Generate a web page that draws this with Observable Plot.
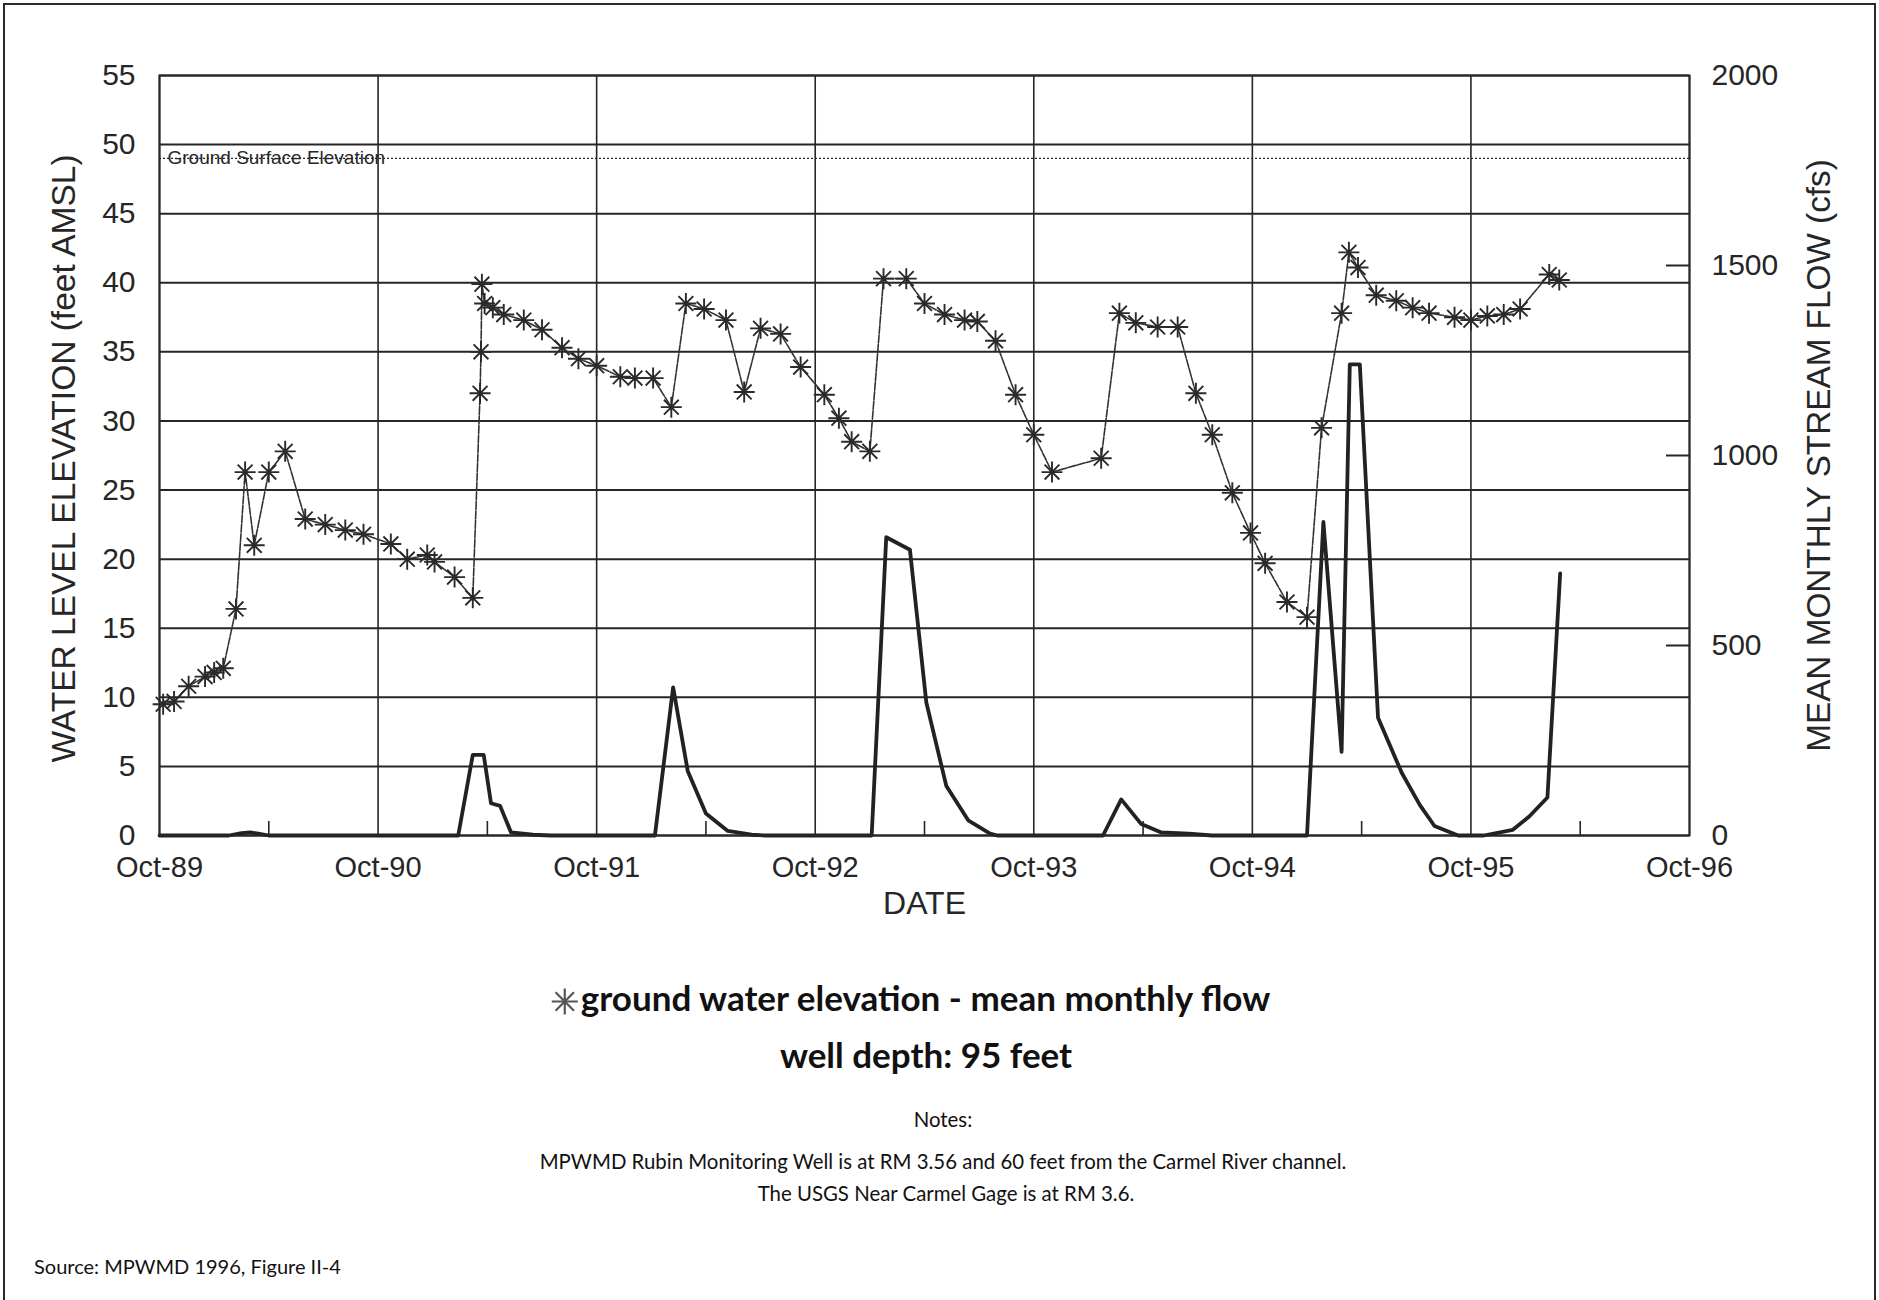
<!DOCTYPE html>
<html><head><meta charset="utf-8">
<script src="https://cdn.jsdelivr.net/npm/d3@7"></script>
<script src="https://cdn.jsdelivr.net/npm/@observablehq/plot@0.6"></script>
<style>
body{margin:0;background:#fff;}
#page{position:relative;width:1879px;height:1300px;overflow:hidden;background:#fff;}
#chart{position:absolute;left:0;top:0;}
#border{position:absolute;left:3px;top:3px;width:1873px;height:1320px;border:2px solid #2a2a2a;box-sizing:border-box;pointer-events:none;}
.t{position:absolute;white-space:nowrap;transform:translate(-50%,-50%);color:#111;font-family:Lato,"Open Sans",sans-serif;line-height:1;}
.b{font-weight:700;font-size:35px;}
.n{font-size:20.4px;}
</style></head><body>
<div id="page">
  <div id="chart"></div>
  <div class="t b" id="legend" style="left:910px;top:998px;"><svg width="30" height="30" viewBox="-15 -15 30 30" style="vertical-align:-6px;margin-right:1px"><g stroke="#555" stroke-width="2.2"><line x1="-13" y1="0" x2="13" y2="0"/><line x1="0" y1="-13" x2="0" y2="13"/><line x1="-9.2" y1="-9.2" x2="9.2" y2="9.2"/><line x1="-9.2" y1="9.2" x2="9.2" y2="-9.2"/></g></svg><span id="legendText"></span></div>
  <div class="t b" id="depth" style="left:926px;top:1054px;"></div>
  <div class="t n" id="notesHead" style="left:943px;top:1119px;"></div>
  <div class="t n" id="note1" style="left:943px;top:1161px;"></div>
  <div class="t n" id="note2" style="left:946px;top:1193px;"></div>
  <div class="t n" id="source" style="left:34px;top:1266px;transform:translate(0,-50%);font-size:20px;"></div>
  <div id="border"></div>
</div>
<script>
// ---- Data (x = months since Oct 1989) ----
const gwMonth = [0.2,0.8,1.6,2.5,3.0,3.5,4.2,4.7,5.2,6.0,6.9,8.0,9.1,10.2,11.2,12.7,13.6,14.7,15.1,16.2,17.2,17.6,17.65,17.7,17.85,18.3,18.9,20.0,21.0,22.1,23.0,24.0,25.3,26.1,27.1,28.1,28.9,29.9,31.1,32.1,33.0,34.1,35.2,36.5,37.3,38.0,39.0,39.75,41.0,42.0,43.1,44.2,44.9,45.9,47.0,48.0,49.0,51.7,52.7,53.6,54.8,55.9,56.9,57.8,58.9,59.9,60.7,61.9,63.0,63.8,64.9,65.3,65.8,66.8,67.9,68.8,69.7,71.1,72.0,72.9,73.8,74.7,76.3,76.85];
const gwLevel = [9.5,9.7,10.8,11.5,11.8,12.1,16.4,26.3,21.0,26.3,27.8,22.9,22.5,22.1,21.8,21.1,20.0,20.3,19.8,18.7,17.2,32.0,35.0,39.9,38.5,38.2,37.7,37.3,36.6,35.3,34.5,34.0,33.2,33.1,33.1,31.0,38.5,38.1,37.3,32.1,36.7,36.3,33.9,31.9,30.2,28.5,27.8,40.3,40.3,38.5,37.7,37.3,37.2,35.8,31.9,29.0,26.3,27.3,37.8,37.1,36.8,36.8,32.0,29.0,24.8,21.9,19.7,16.9,15.8,29.5,37.8,42.2,41.1,39.1,38.7,38.2,37.8,37.5,37.3,37.6,37.7,38.1,40.6,40.2];

const flowMonth = [0,3.8,4.5,5.0,5.5,6.0,16.4,17.2,17.8,18.2,18.7,19.3,20.5,21.5,27.2,28.2,29.0,30.0,31.2,32.5,33.3,39.1,39.9,41.2,42.1,43.2,44.4,45.6,46.0,51.8,52.8,53.9,55.0,56.5,57.8,63.0,63.9,64.9,65.35,65.9,66.9,68.2,69.2,70.0,71.3,72.7,74.3,75.2,76.2,76.9];
const flowCfs   = [0,0,6,8,4,0,0,212,212,85,78,8,2,0,0,390,170,58,12,2,0,0,785,752,350,130,40,5,0,0,95,30,8,5,0,0,825,220,1240,1240,310,165,80,25,0,0,15,50,100,690];

const groundSurfaceLevel = 49;
const groundSurfaceLabel = "Ground Surface Elevation";

// ---- Axes / labels ----
const yearTicks = [0,12,24,36,48,60,72,84];
const yearLabels = ["Oct-89","Oct-90","Oct-91","Oct-92","Oct-93","Oct-94","Oct-95","Oct-96"];
const halfYearTicks = [6,18,30,42,54,66,78];
const levelTicks = [0,5,10,15,20,25,30,35,40,45,50,55];
const levelMax = 55;
const flowTicks = [0,500,1000,1500,2000];
const flowInnerTicks = [500,1000,1500];
const flowMax = 2000;
const leftTitle = "WATER LEVEL ELEVATION (feet AMSL)";
const rightTitle = "MEAN MONTHLY STREAM FLOW (cfs)";
const xTitle = "DATE";

const legendText = "ground water elevation - mean monthly flow";
const depthText = "well depth: 95 feet";
const notesHead = "Notes:";
const note1 = "MPWMD Rubin Monitoring Well is at RM 3.56 and 60 feet from the Carmel River channel.";
const note2 = "The USGS Near Carmel Gage is at RM 3.6.";
const sourceText = "Source: MPWMD 1996, Figure II-4";

// ---- Build ----
const toLevel = f => f * levelMax / flowMax;
const gw = gwMonth.map((m, i) => ({m, v: gwLevel[i]}));
const flow = flowMonth.map((m, i) => ({m, v: toLevel(flowCfs[i])}));

const asterisk8 = {
  draw(ctx, size) {
    const r = Math.sqrt(size / Math.PI), d = r * Math.SQRT1_2;
    ctx.moveTo(-r, 0); ctx.lineTo(r, 0);
    ctx.moveTo(0, -r); ctx.lineTo(0, r);
    ctx.moveTo(-d, -d); ctx.lineTo(d, d);
    ctx.moveTo(-d, d); ctx.lineTo(d, -d);
  }
};

const ink = "#262626";
const chart = Plot.plot({
  width: 1879, height: 930,
  marginLeft: 159, marginRight: 190, marginTop: 75, marginBottom: 95,
  style: {background: "transparent", fontFamily: "'Liberation Sans', Arial, sans-serif", color: ink},
  x: {type: "linear", domain: [0, 84]},
  y: {domain: [0, levelMax]},
  marks: [
    Plot.gridY(levelTicks, {stroke: ink, strokeOpacity: 1, strokeWidth: 2}),
    Plot.gridX(yearTicks, {stroke: ink, strokeOpacity: 1, strokeWidth: 1.6}),
    Plot.ruleY([groundSurfaceLevel], {stroke: ink, strokeWidth: 1.3, strokeDasharray: "2,2"}),
    Plot.text([groundSurfaceLabel], {y: () => groundSurfaceLevel, frameAnchor: "left", dx: 8, dy: -1, textAnchor: "start", lineAnchor: "middle", fontSize: 19, fill: ink}),
    Plot.line(flow, {x: "m", y: "v", stroke: "#222", strokeWidth: 3.8, strokeLinejoin: "round"}),
    Plot.line(gw, {x: "m", y: "v", stroke: "#333", strokeWidth: 1.6, strokeDasharray: "8,1.5"}),
    Plot.dot(gw, {x: "m", y: "v", symbol: asterisk8, r: 10.5, fill: "none", stroke: "#2a2a2a", strokeWidth: 1.9}),
    Plot.frame({stroke: ink, strokeWidth: 2}),
    Plot.axisY(levelTicks, {anchor: "left", tickSize: 0, tickPadding: 24, fontSize: 30, label: null}),
    Plot.axisY(flowTicks.map(toLevel), {anchor: "right", tickSize: 0, tickPadding: 22, fontSize: 30, label: null,
      tickFormat: d => String(Math.round(d * flowMax / levelMax))}),
    Plot.axisY(flowInnerTicks.map(toLevel), {anchor: "right", tickSize: -24, strokeWidth: 2, tickFormat: () => "", label: null}),
    Plot.axisX(yearTicks, {anchor: "bottom", tickSize: 0, tickPadding: 21, fontSize: 29, label: null,
      tickFormat: d => yearLabels[yearTicks.indexOf(d)]}),
    Plot.axisX(halfYearTicks, {anchor: "bottom", tickSize: -14, strokeWidth: 1.6, tickFormat: () => "", label: null}),
    Plot.text([xTitle], {frameAnchor: "bottom", dy: 68, textAnchor: "middle", lineAnchor: "middle", fontSize: 32, fill: ink}),
    Plot.text([leftTitle], {frameAnchor: "left", dx: -95, dy: 3, textAnchor: "middle", lineAnchor: "middle", rotate: -90, fontSize: 33.5, fill: ink}),
    Plot.text([rightTitle], {frameAnchor: "right", dx: 130, textAnchor: "middle", lineAnchor: "middle", rotate: -90, fontSize: 33.3, fill: ink})
  ]
});
document.getElementById("chart").appendChild(chart);
document.getElementById("legendText").textContent = legendText;
document.getElementById("depth").textContent = depthText;
document.getElementById("notesHead").textContent = notesHead;
document.getElementById("note1").textContent = note1;
document.getElementById("note2").textContent = note2;
document.getElementById("source").textContent = sourceText;
</script>
</body></html>
